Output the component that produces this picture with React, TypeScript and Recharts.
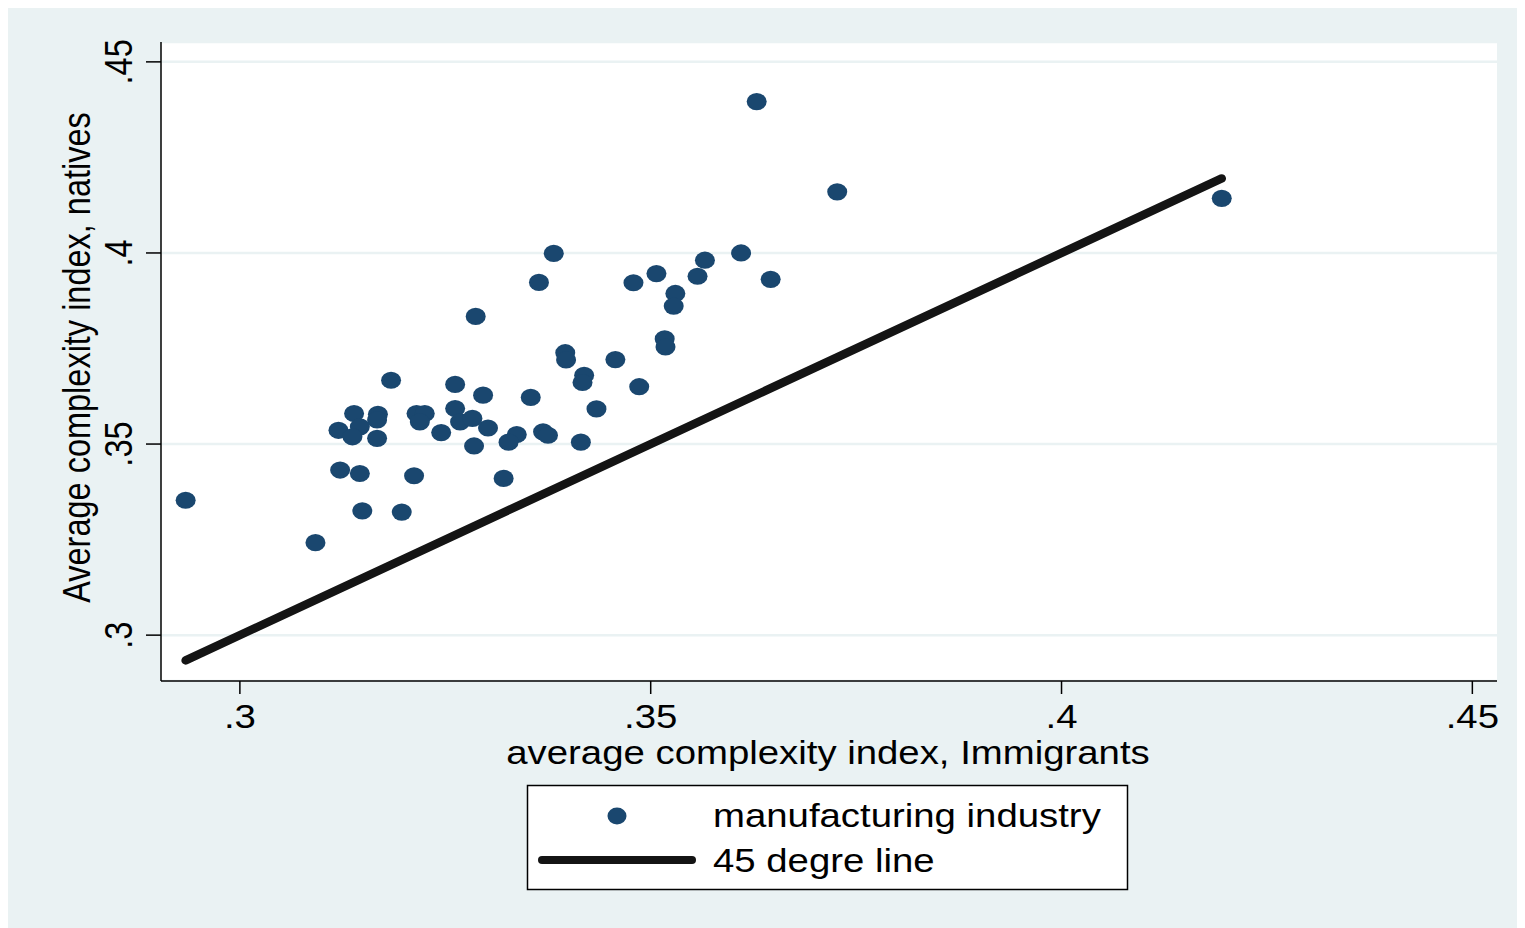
import React from "react";
import { ScatterChart, Scatter, XAxis, YAxis, CartesianGrid } from "recharts";

// average complexity index, immigrants (x) vs natives (y), manufacturing industries
const immigrants = [
  0.2934, 0.3092, 0.3122, 0.3146, 0.3149, 0.3197, 0.3212, 0.312, 0.3139, 0.3146,
  0.3137, 0.3168, 0.3167, 0.3167, 0.3184, 0.3215, 0.3225, 0.3219, 0.3245, 0.3262,
  0.3262, 0.3268, 0.3283, 0.3296, 0.3302, 0.3285, 0.3287, 0.3321, 0.3382, 0.3364,
  0.3479, 0.3507, 0.3566, 0.3557, 0.361, 0.3646, 0.353, 0.3528, 0.3517, 0.3518,
  0.3396, 0.3397, 0.3457, 0.3419, 0.3417, 0.3486, 0.3354, 0.3434, 0.3337, 0.3327,
  0.3369, 0.3375, 0.3415, 0.3629, 0.3727, 0.4195,
];
const natives = [
  0.3353, 0.3242, 0.3432, 0.3423, 0.3325, 0.3322, 0.3417, 0.3536, 0.358, 0.3545,
  0.3519, 0.3578, 0.3563, 0.3515, 0.3667, 0.358, 0.358, 0.3558, 0.353, 0.3656,
  0.3593, 0.3558, 0.3567, 0.3628, 0.3542, 0.3495, 0.3834, 0.341, 0.3999, 0.3923,
  0.3922, 0.3946, 0.3981, 0.3939, 0.4, 0.3931, 0.3894, 0.3861, 0.3775, 0.3754,
  0.3739, 0.372, 0.3721, 0.368, 0.3661, 0.365, 0.3622, 0.3592, 0.3525, 0.3505,
  0.3532, 0.3523, 0.3505, 0.4396, 0.416, 0.4143,
];
// 45 degree line runs over the range of the immigrants index
const lineEnds = [0.2934, 0.4195];
const ticks = [0.3, 0.35, 0.4, 0.45];

const points = immigrants.map((x, i) => ({ x, y: natives[i] }));
const diagonal = lineEnds.map((v) => ({ x: v, y: v }));

const BG = "#eaf2f3";
const NAVY = "#1a476f";
const FONT = "'Liberation Sans', Arial, sans-serif";
const FS = 32.5;
const SX = 1.18; // the picture is stretched horizontally

const fmt = (v: number) => String(v).replace(/^0/, "");

const XTick = ({ x, y, payload }: any) => (
  <text
    transform={`translate(${x},${y + 32}) scale(${SX},1)`}
    textAnchor="middle"
    fontSize={FS}
    fontFamily={FONT}
    fill="#000"
  >
    {fmt(payload.value)}
  </text>
);

const YTick = ({ x, y, payload }: any) => (
  <text
    transform={`translate(${x - 12},${y}) scale(${SX},1) rotate(-90)`}
    textAnchor="middle"
    fontSize={FS}
    fontFamily={FONT}
    fill="#000"
  >
    {fmt(payload.value)}
  </text>
);

const Dot = ({ cx, cy }: any) => <ellipse cx={cx} cy={cy} rx={10} ry={8.6} fill={NAVY} />;

export default function App() {
  return (
    <div style={{ position: "relative", width: 1517, height: 920, background: BG }}>
      <ScatterChart width={1517} height={920} margin={{ top: 34, right: 28, bottom: 167, left: 53 }}>
        <CartesianGrid fill="#fff" stroke={BG} strokeWidth={2.5} vertical={false} />
        <XAxis
          type="number"
          dataKey="x"
          domain={[0.2904, 0.453]}
          ticks={ticks}
          allowDataOverflow
          height={80}
          tickSize={13}
          tickMargin={2}
          axisLine={{ stroke: "#000", strokeWidth: 1.5 }}
          tickLine={{ stroke: "#000", strokeWidth: 1.5 }}
          tick={<XTick />}
          label={(p: any) => (
            <text
              transform={`translate(${p.viewBox.x + p.viewBox.width / 2 - 1},${p.viewBox.y + 83}) scale(${SX},1)`}
              textAnchor="middle"
              fontSize={FS}
              fontFamily={FONT}
              fill="#000"
            >
              average complexity index, Immigrants
            </text>
          )}
        />
        <YAxis
          type="number"
          dataKey="y"
          domain={[0.288, 0.4552]}
          ticks={ticks}
          allowDataOverflow
          width={100}
          tickSize={15}
          tickMargin={2}
          axisLine={{ stroke: "#000", strokeWidth: 1.5 }}
          tickLine={{ stroke: "#000", strokeWidth: 1.5 }}
          tick={<YTick />}
          label={(p: any) => (
            <text
              transform={`translate(${p.viewBox.x + 29},${p.viewBox.y + p.viewBox.height / 2 - 4}) scale(${SX},1) rotate(-90)`}
              textAnchor="middle"
              fontSize={FS}
              fontFamily={FONT}
              fill="#000"
            >
              Average complexity index, natives
            </text>
          )}
        />
        <Scatter data={points} shape={<Dot />} isAnimationActive={false} />
        <Scatter
          data={diagonal}
          shape={() => null}
          line={{ stroke: "#141414", strokeWidth: 8.5, strokeLinecap: "round" }}
          isAnimationActive={false}
        />
      </ScatterChart>

      {/* legend */}
      <svg
        width={1517}
        height={920}
        style={{ position: "absolute", left: 0, top: 0, pointerEvents: "none" }}
      >
        <rect x={519.5} y={777.5} width={600} height={104} fill="#fff" stroke="#000" strokeWidth={1.5} />
        <ellipse cx={609} cy={808} rx={9.5} ry={8.4} fill={NAVY} />
        <line x1={534} y1={852} x2={684} y2={852} stroke="#141414" strokeWidth={8} strokeLinecap="round" />
        <text transform={`translate(705,819) scale(${SX},1)`} fontSize={FS} fontFamily={FONT} fill="#000">
          manufacturing industry
        </text>
        <text transform={`translate(705,864) scale(${SX},1)`} fontSize={FS} fontFamily={FONT} fill="#000">
          45 degre line
        </text>
      </svg>
    </div>
  );
}
